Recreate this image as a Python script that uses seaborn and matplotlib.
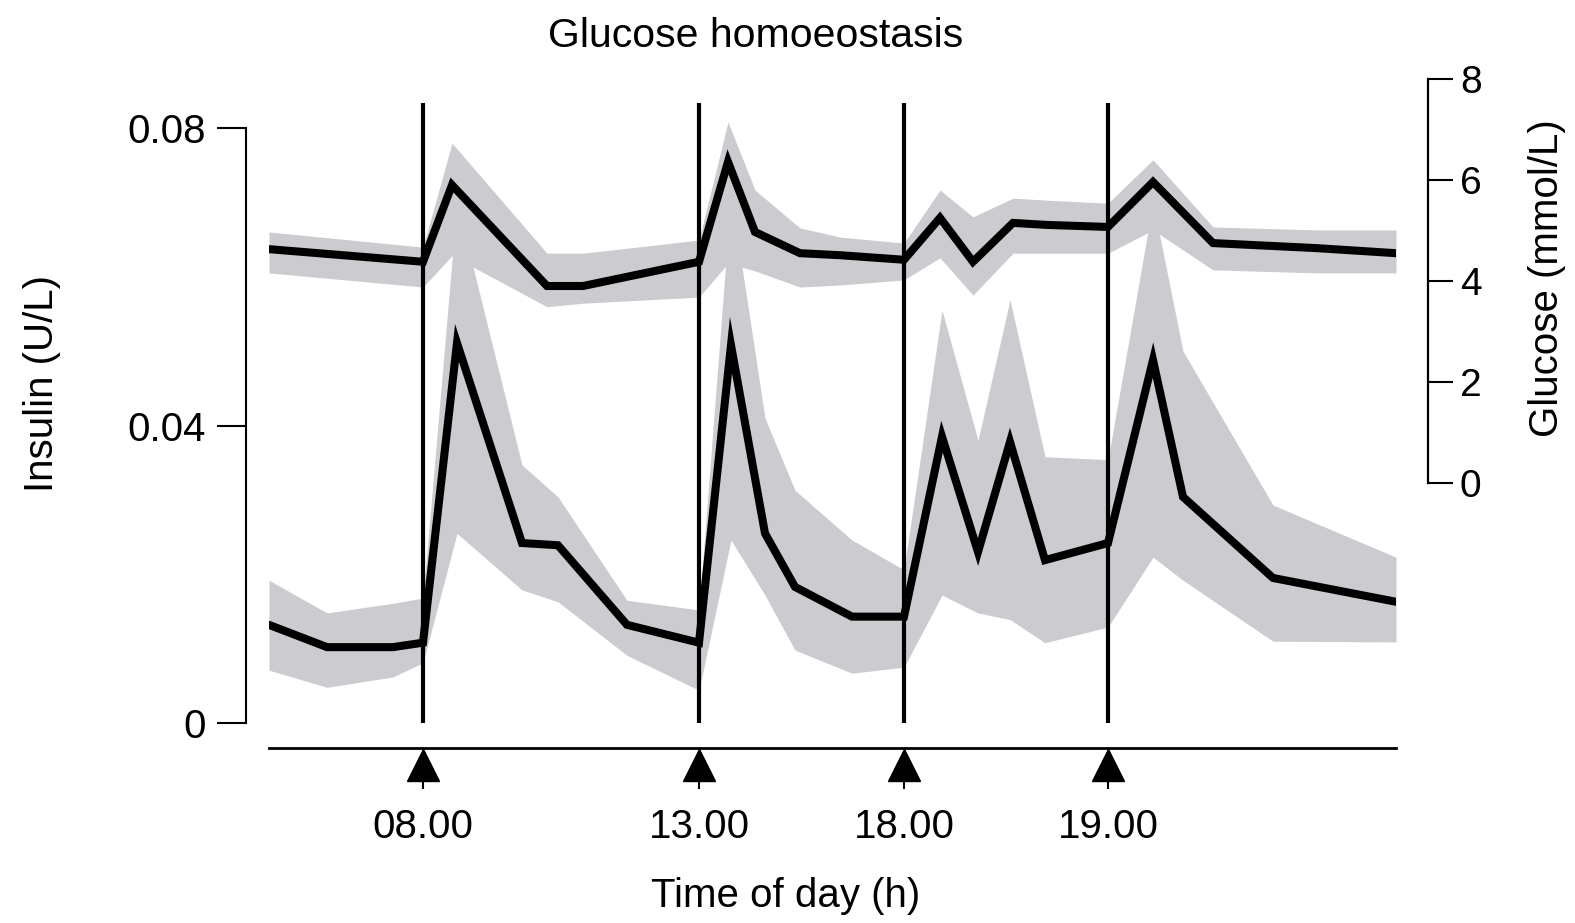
import numpy as np
import matplotlib
matplotlib.use("Agg")
import matplotlib.pyplot as plt
from matplotlib import transforms as mtransforms
import seaborn as sns

# Sampling positions along the day (plot units), mean and band limits
ins_t = [0.0, 5.8, 12.4, 15.4, 18.8, 25.3, 28.9, 35.8, 43.0, 46.2, 49.6, 52.6,
         58.3, 63.5, 67.3, 70.9, 74.1, 77.6, 83.9, 88.4, 91.4, 100.4, 112.7]
ins_mean = [0.0132, 0.0102, 0.0102, 0.0108, 0.0511, 0.0242, 0.0239, 0.0132,
            0.0108, 0.0508, 0.0255, 0.0183, 0.0143, 0.0143, 0.0385, 0.0230,
            0.0378, 0.0219, 0.0242, 0.0488, 0.0304, 0.0195, 0.0163]
ins_hi = [0.0192, 0.0148, 0.0161, 0.0168, 0.0700, 0.0347, 0.0304, 0.0165,
          0.0152, 0.0710, 0.0410, 0.0313, 0.0246, 0.0206, 0.0555, 0.0380,
          0.0569, 0.0358, 0.0354, 0.0700, 0.0500, 0.0293, 0.0223]
ins_lo = [0.0071, 0.0048, 0.0062, 0.0081, 0.0255, 0.0179, 0.0163, 0.0091,
          0.0044, 0.0246, 0.0172, 0.0098, 0.0067, 0.0075, 0.0172, 0.0148,
          0.0139, 0.0108, 0.0129, 0.0223, 0.0192, 0.0110, 0.0109]

glu_t = [0.0, 15.4, 18.3, 27.8, 31.4, 43.0, 45.9, 48.6, 53.1, 57.1, 63.5,
         67.1, 70.4, 74.4, 77.8, 83.9, 88.4, 94.4, 104.8, 112.7]
glu_mean = [4.63, 4.38, 5.90, 3.90, 3.90, 4.38, 6.36, 4.97, 4.55, 4.51, 4.42,
            5.25, 4.38, 5.15, 5.11, 5.07, 5.96, 4.75, 4.65, 4.55]
glu_hi = [4.97, 4.67, 6.73, 4.55, 4.55, 4.81, 7.15, 5.80, 5.05, 4.87, 4.75,
          5.80, 5.27, 5.64, 5.60, 5.54, 6.40, 5.07, 5.01, 5.01]
glu_lo = [4.16, 3.88, 4.50, 3.49, 3.56, 3.68, 4.35, 4.20, 3.88, 3.92, 4.02,
          4.46, 3.72, 4.55, 4.55, 4.55, 5.01, 4.22, 4.16, 4.16]

meal_t = [15.4, 43.0, 63.5, 83.9]
meal_labels = ["08.00", "13.00", "18.00", "19.00"]

ins_ticks = [0, 0.04, 0.08]
ins_ticklabels = ["0", "0.04", "0.08"]
glu_ticks = [0, 2, 4, 6, 8]

BAND = "#cbcbd0"
FS = 29

sns.set_style("white")
plt.rcParams["font.family"] = ["Liberation Sans", "DejaVu Sans"]
plt.rcParams["text.color"] = "black"
plt.rcParams["axes.labelcolor"] = "black"
plt.rcParams["xtick.color"] = "black"
plt.rcParams["ytick.color"] = "black"

W, H = 1575, 923
fig = plt.figure(figsize=(W / 100, H / 100), dpi=100)
ax = fig.add_axes([269 / W, (H - 748) / H, 1127 / W, 669 / H])

# Insulin: band + mean line
ax.fill_between(ins_t, ins_lo, ins_hi, color=BAND, lw=0, zorder=1)
sns.lineplot(x=ins_t, y=ins_mean, ax=ax, color="black", lw=5.8,
             errorbar=None, solid_joinstyle="miter", zorder=3)
ax.set_ylim(-0.00336, 0.08659)

# Glucose on its own scale
ax2 = ax.twinx()
ax2.fill_between(glu_t, glu_lo, glu_hi, color=BAND, lw=0, zorder=1)
sns.lineplot(x=glu_t, y=glu_mean, ax=ax2, color="black", lw=5.8,
             errorbar=None, solid_joinstyle="miter", zorder=3)

# Meal markers: vertical lines spanning the insulin range
ax2.vlines(meal_t, 0, 0.0834, transform=ax.transData, color="black", lw=3, zorder=4)

ax.set_xlim(0, 112.7)
ax2.set_ylim(-5.25, 8.0)

# Left axis
ax.set_yticks(ins_ticks, labels=ins_ticklabels)
ax.set_xticks([])
ax.tick_params(axis="y", left=True, length=20.9, width=1.5, pad=8,
               labelsize=FS, direction="out")
for s in ("top", "right"):
    ax.spines[s].set_visible(False)
ax.spines["left"].set_position(("outward", 16.6))
ax.spines["left"].set_bounds(0, 0.08)
ax.spines["left"].set_linewidth(1.5)
ax.spines["left"].set_color("black")
ax.spines["bottom"].set_linewidth(2.0)
ax.spines["bottom"].set_color("black")
ax.set_xlabel("")
ax.set_ylabel("")

# Right axis
ax2.set_yticks(glu_ticks, labels=[str(v) for v in glu_ticks])
ax2.tick_params(axis="y", right=True, length=18, width=1.5, pad=5,
                labelsize=28, direction="out")
for s in ("top", "left", "bottom"):
    ax2.spines[s].set_visible(False)
ax2.spines["right"].set_position(("outward", 23))
ax2.spines["right"].set_bounds(0, 8)
ax2.spines["right"].set_linewidth(1.6)
ax2.spines["right"].set_color("black")
ax2.set_xlabel("")
ax2.set_ylabel("")

# Meal arrows and time labels under the baseline
blend = mtransforms.blended_transform_factory(ax.transData, ax.transAxes)


def below(px):
    return blend + mtransforms.ScaledTranslation(0, -px / 100, fig.dpi_scale_trans)


zeros = np.zeros(len(meal_t))
ax.plot(meal_t, zeros, ls="none", marker="^", ms=23, color="black",
        transform=below(17), clip_on=False)
ax.plot(meal_t, zeros, ls="none", marker="|", ms=6.5, mew=1.5, color="black",
        transform=below(36), clip_on=False)
for t, lab in zip(meal_t, meal_labels):
    ax.text(t, 0, lab, transform=below(90), ha="center", va="baseline",
            fontsize=FS, clip_on=False)

# Titles and axis labels
fig.text(756 / W, 1 - 47 / H, "Glucose homoeostasis", ha="center",
         va="baseline", fontsize=29.5)
fig.text(786 / W, 1 - 907 / H, "Time of day (h)", ha="center",
         va="baseline", fontsize=FS)
fig.text(42 / W, 1 - 384 / H, "Insulin (U/L)", rotation=90, ha="center",
         va="center", fontsize=FS)
fig.text(1547 / W, 1 - 278 / H, "Glucose (mmol/L)", rotation=90, ha="center",
         va="center", fontsize=FS)

fig.savefig("out.png", dpi=100)
